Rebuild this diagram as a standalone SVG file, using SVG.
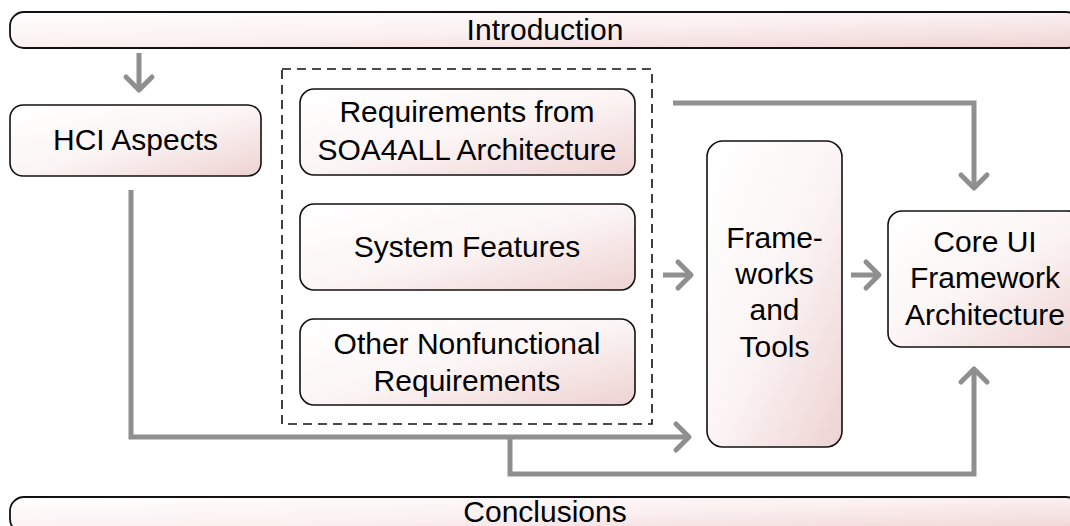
<svg xmlns="http://www.w3.org/2000/svg" width="1070" height="526" viewBox="0 0 1070 526">
<defs>
<linearGradient id="g" x1="0" y1="0" x2="1" y2="1">
<stop offset="0" stop-color="#ffffff"/>
<stop offset="0.5" stop-color="#fcf5f5"/>
<stop offset="1" stop-color="#eed2d2"/>
</linearGradient>
<linearGradient id="gb" x1="0" y1="0" x2="1" y2="1">
<stop offset="0" stop-color="#ffffff"/>
<stop offset="0.5" stop-color="#fbf0f0"/>
<stop offset="1" stop-color="#efd3d3"/>
</linearGradient>
<marker id="arr" markerUnits="userSpaceOnUse" viewBox="-20 -20 30 40" refX="0" refY="0" markerWidth="30" markerHeight="40" orient="auto" overflow="visible">
<path d="M-13,-13 L0,0 L-13,13" fill="none" stroke="#8f8f8f" stroke-width="5" stroke-linecap="round" stroke-linejoin="round"/>
</marker>
<style>
.box{fill:url(#g);stroke:#111;stroke-width:1.6}
.bar{fill:url(#gb);stroke:#111;stroke-width:1.8}
.t{font-family:"Liberation Sans",Arial,sans-serif;font-size:30px;fill:#000;text-anchor:middle}
.tb{font-family:"Liberation Sans",Arial,sans-serif;font-size:30px;fill:#000;text-anchor:middle}
.ca{fill:none;stroke:#8f8f8f;stroke-width:5;marker-end:url(#arr)}
.dash{fill:none;stroke:#111;stroke-width:1.6;stroke-dasharray:9 6}
</style>
</defs>
<rect width="1070" height="526" fill="#ffffff"/>

<g id="connectors">
<path class="ca" d="M139,53 V90"/>
<path class="ca" d="M673,103 H974 V188"/>
<path class="ca" d="M663,275 H691"/>
<path class="ca" d="M851,275 H879"/>
<path class="ca" d="M131,190 V437 H689"/>
<path class="ca" d="M510,437 V474 H974 V369"/>
</g>

<g id="introduction">
<rect class="bar" x="10" y="12" width="1070" height="36" rx="14"/>
<text class="tb" x="545" y="40">Introduction</text>
</g>

<g id="hci-aspects">
<rect class="box" x="10" y="105" width="251" height="71" rx="13"/>
<text class="t" x="135.5" y="150">HCI Aspects</text>
</g>

<g id="requirements-group">
<rect class="dash" x="282" y="69" width="370" height="355"/>
</g>

<g id="requirements-soa4all">
<rect class="box" x="300" y="89" width="335" height="86" rx="14"/>
<text class="t" x="467" y="122">Requirements from</text>
<text class="t" x="467" y="160">SOA4ALL Architecture</text>
</g>

<g id="system-features">
<rect class="box" x="300" y="204" width="335" height="86" rx="14"/>
<text class="t" x="467" y="257">System Features</text>
</g>

<g id="other-nonfunctional">
<rect class="box" x="300" y="319" width="335" height="86" rx="14"/>
<text class="t" x="467" y="354">Other Nonfunctional</text>
<text class="t" x="467" y="391">Requirements</text>
</g>

<g id="frameworks-tools">
<rect class="box" x="707" y="141" width="135" height="306" rx="16"/>
<text class="t" x="774.5" y="248">Frame-</text>
<text class="t" x="774.5" y="284">works</text>
<text class="t" x="774.5" y="320">and</text>
<text class="t" x="774.5" y="357">Tools</text>
</g>

<g id="core-ui">
<rect class="box" x="888" y="211" width="194" height="136" rx="14"/>
<text class="t" x="985" y="252">Core UI</text>
<text class="t" x="985" y="288">Framework</text>
<text class="t" x="985" y="325">Architecture</text>
</g>

<g id="conclusions">
<rect class="bar" x="10" y="497" width="1070" height="36" rx="14"/>
<text class="tb" x="545" y="522">Conclusions</text>
</g>
</svg>
